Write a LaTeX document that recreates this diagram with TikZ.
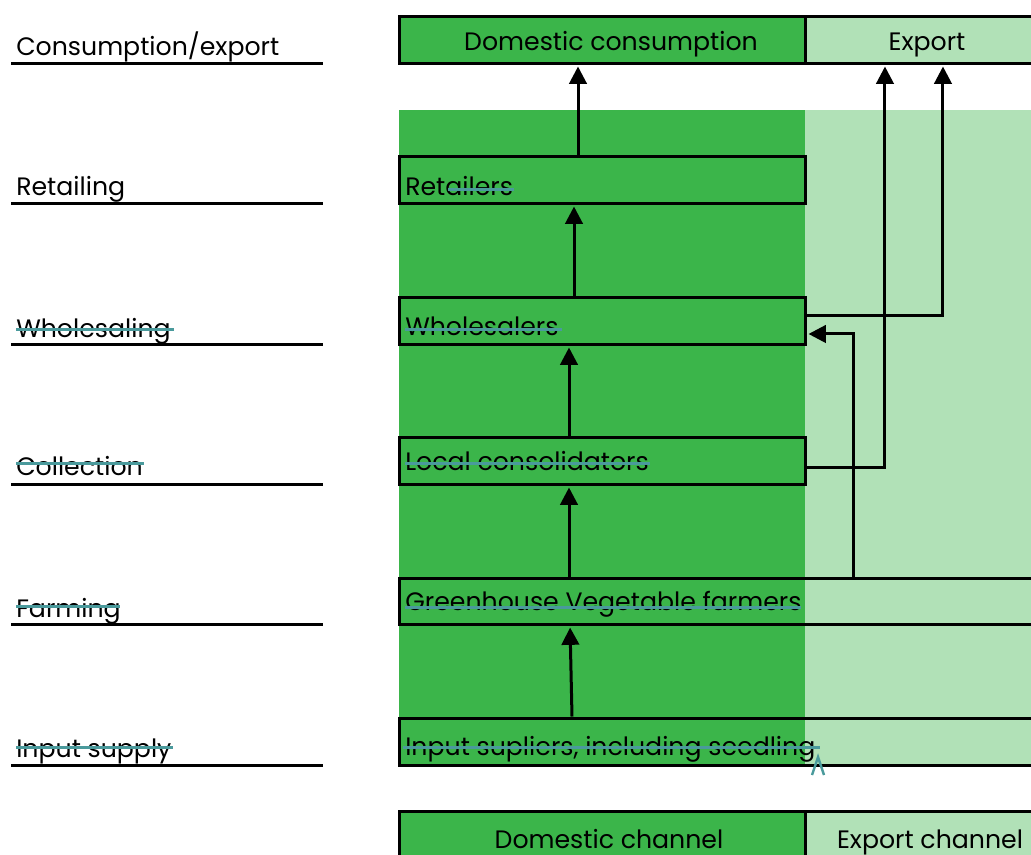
\documentclass[tikz,border=0pt]{standalone}
\usepackage{fontspec}
\setmainfont{Poppins}
\usetikzlibrary{arrows.meta,fit}
\definecolor{dkgreen}{HTML}{3BB54A}
\definecolor{ltgreen}{HTML}{B1E1B7}
\definecolor{strikec}{HTML}{4A9A9C}
\begin{document}
\begin{tikzpicture}[x=0.75pt,y=-0.75pt,
  boxst/.style={draw=black, line width=2.25pt, inner sep=0pt},
  lbl/.style={font=\fontsize{18.9}{22}\selectfont, inner sep=0pt, anchor=base west},
  ctr/.style={font=\fontsize{18.9}{22}\selectfont, inner sep=0pt, anchor=base},
  arr/.style={line width=2.25pt, -{Triangle[length=13pt,width=13pt]}, shorten >=1.5pt},
  strike/.style={draw=strikec, line width=2.25pt},
  rulest/.style={line width=2.25pt}]
\useasboundingbox (0,0) rectangle (1031,854);
\clip (0,0) rectangle (1031,854);
% background columns
\fill[dkgreen] (399,110) rectangle (805,765);
\fill[ltgreen] (805,110) rectangle (1050,765);
% boxes
\node[boxst, fill=dkgreen, fit={(399,16)(805,63)}] (dc) {};
\node[boxst, fill=ltgreen, fit={(805,16)(1050,63)}] (exp) {};
\node[boxst, fill=dkgreen, fit={(399,156)(805,203)}] (ret) {};
\node[boxst, fill=dkgreen, fit={(399,297)(805,344)}] (whs) {};
\node[boxst, fill=dkgreen, fit={(399,437)(805,484)}] (loc) {};
\node[boxst, fit={(399,578)(1050,624)}] (gh) {};
\node[boxst, fit={(399,718)(1050,765)}] (inp) {};
\node[boxst, fill=dkgreen, fit={(399,811)(805,875)}] (dch) {};
\node[boxst, fill=ltgreen, fit={(805,811)(1050,875)}] (ech) {};
% box texts
\node[ctr] (tdc) at (611,50) {Domestic consumption};
\node[ctr] (texp) at (927,50) {Export};
\node[ctr] (tdch) at (609,848) {Domestic channel};
\node[ctr] (tech) at (930,848) {Export channel};
\node[lbl] (tret) at (405,195) {Retailers};
\node[lbl] (twhs) at (405,335) {Wholesalers};
\node[lbl] (tloc) at (405,470) {Local consolidators};
\node[lbl] (tgh) at (405,610) {Greenhouse Vegetable farmers};
\node[lbl] (tinp) at (405,755) {Input supliers, including seedling};
% left labels
\node[lbl] (l1) at (16,55) {Consumption/export};
\node[lbl] (l2) at (16,195) {Retailing};
\node[lbl] (l3) at (16,337) {Wholesaling};
\node[lbl] (l4) at (16,475) {Collection};
\node[lbl] (l5) at (16,617) {Farming};
\node[lbl] (l6) at (16,757) {Input supply};
\foreach \yy in {63,203,344,484,624,765} \draw[rulest] (11,\yy) -- (323,\yy);
% strikes
\draw[strike] (16,329) -- (174,329);
\draw[strike] (16,463) -- (144,463);
\draw[strike] (16,606) -- (120,606);
\draw[strike] (16,747) -- (173,747);
\draw[strike] (448,189) -- (514,189);
\draw[strike] (405,329) -- (562,329);
\draw[strike] (405,463) -- (650,463);
\draw[strike] (405,607) -- (801,607);
\draw[strike] (403,747) -- (820,747);
\draw[draw=strikec, line width=1.8pt] (812,775) -- (818,757) -- (824,775);
% arrows
\draw[arr] ([xshift=-18pt]ret.north) -- ([xshift=-18pt]dc.south);
\draw[arr] ([xshift=-21pt]whs.north) -- ([xshift=-21pt]ret.south);
\draw[arr] ([xshift=-24.75pt]loc.north) -- ([xshift=-24.75pt]whs.south);
\draw[arr] ([xshift=-24.75pt]loc.south |- gh.north) -- ([xshift=-24.75pt]loc.south);
\draw[arr] ([xshift=-22.5pt]loc.south |- inp.north) -- ([xshift=-24pt]loc.south |- gh.south);
\draw[arr] ([yshift=-4.9pt]loc.east) -| ([xshift=-31.9pt]exp.south);
\draw[arr] ([yshift=4.1pt]whs.east) -| ([xshift=11.6pt]exp.south);
\draw[arr] ([xshift=96.4pt]gh.north) |- ([yshift=-10.1pt]whs.east);
\end{tikzpicture}
\end{document}
